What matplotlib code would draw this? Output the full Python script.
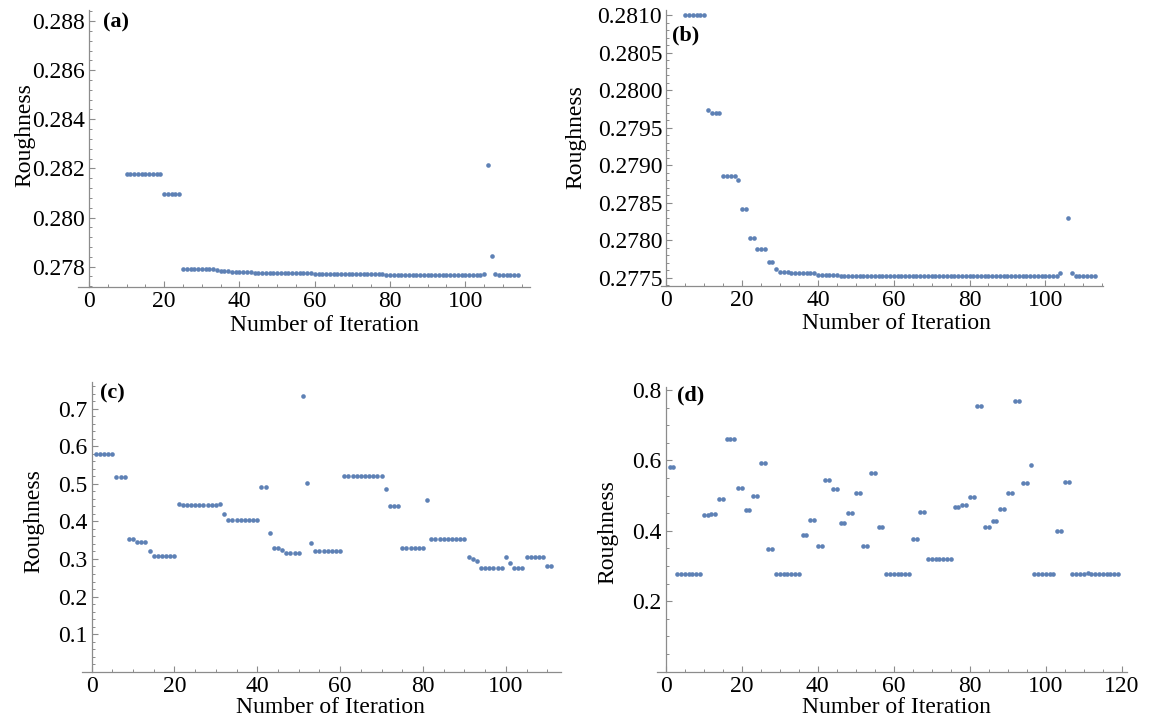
import numpy as np
import matplotlib
matplotlib.use("Agg")
import matplotlib.pyplot as plt
from matplotlib.ticker import MultipleLocator, FixedLocator, FormatStrFormatter

plt.rcParams["font.family"] = ["Liberation Serif", "DejaVu Serif"]

# roughness per iteration, written as runs: level and how many iterations stay on it
# (a) first visible iteration is 10, earlier ones lie above the plot range
a_start = 10
a_level = [0.28176, 0.28094, 0.27790, 0.27786, 0.27781, 0.27778, 0.27774, 0.27771,
           0.27767, 0.27771, 0.28212, 0.27843, 0.27771, 0.27767]
a_count = [10, 5, 9, 1, 3, 6, 16, 19, 26, 1, 1, 1, 1, 6]

# (b) first visible iteration is 5, iteration 105 is off the chart
b_start = 5
b_level = [0.28100, 0.27974, 0.27970, 0.27886, 0.27881, 0.27842, 0.27803, 0.27788,
           0.27771, 0.27762, 0.27758, 0.27756, 0.27754, 0.27753, 0.27757, np.nan,
           0.27830, 0.27757, 0.27753]
b_count = [6, 1, 3, 4, 1, 2, 2, 3, 2, 1, 3, 7, 6, 58, 1, 1, 1, 1, 6]

# (c)
c_start = 1
c_level = [0.580, 0.519, 0.352, 0.344, 0.320, 0.307, 0.446, 0.443, 0.446, 0.421,
           0.403, 0.492, 0.369, 0.328, 0.323, 0.316, 0.734, 0.501, 0.342, 0.321,
           0.521, 0.486, 0.440, 0.328, 0.457, 0.352, 0.306, 0.301, 0.294, 0.277,
           0.306, 0.290, 0.277, 0.306, 0.281]
c_count = [5, 3, 2, 3, 1, 6, 1, 9, 1, 1,
           8, 2, 1, 2, 1, 4, 1, 1, 1, 7,
           10, 1, 3, 6, 1, 9, 1, 1, 1, 6,
           1, 1, 3, 5, 2]

# (d)
d_start = 1
d_level = [0.581, 0.276, 0.445, 0.447, 0.490, 0.661, 0.522, 0.458, 0.500, 0.592,
           0.347, 0.276, 0.388, 0.431, 0.357, 0.545, 0.518, 0.422, 0.451, 0.508,
           0.356, 0.565, 0.410, 0.276, 0.376, 0.453, 0.319, 0.467, 0.474, 0.495,
           0.755, 0.410, 0.428, 0.463, 0.508, 0.768, 0.536, 0.588, 0.276, 0.399,
           0.539, 0.276, 0.281, 0.278, 0.276]
d_count = [2, 7, 2, 2, 2, 3, 2, 2, 2, 2,
           2, 7, 2, 2, 2, 2, 2, 2, 2, 2,
           2, 2, 2, 7, 2, 2, 7, 2, 2, 2,
           2, 2, 2, 2, 2, 2, 2, 1, 6, 2,
           2, 4, 1, 1, 7]

DOT = (0.368, 0.507, 0.710)
AXC = "#8c8c8c"

fig = plt.figure(figsize=(11.52, 7.23), dpi=100)


def panel(rect, start, level, count, xlim, ylim, yticks, yminor, yfmt, xticks,
          letter, letter_xy, xlab_xy, ylab_xy):
    ax = fig.add_axes(rect)
    y = np.repeat(level, count)
    x = np.arange(start, start + len(y))
    ax.scatter(x, y, s=11, color=DOT, linewidths=0, zorder=3, clip_on=False)
    ax.set_xlim(*xlim)
    ax.set_ylim(*ylim)
    for s in ["top", "right"]:
        ax.spines[s].set_visible(False)
    ax.spines["left"].set_position(("data", 0))
    for s in ["left", "bottom"]:
        ax.spines[s].set_color(AXC)
        ax.spines[s].set_linewidth(0.9)
    ax.yaxis.set_major_locator(FixedLocator(yticks))
    ax.yaxis.set_major_formatter(FormatStrFormatter(yfmt))
    ax.yaxis.set_minor_locator(MultipleLocator(yminor))
    ax.xaxis.set_major_locator(FixedLocator(xticks))
    ax.xaxis.set_minor_locator(MultipleLocator(5))
    ax.tick_params(which="both", direction="in", color=AXC, labelsize=17, pad=3)
    ax.tick_params(which="major", length=4.5, width=0.8)
    ax.tick_params(which="minor", length=2.5, width=0.7)
    ax.set_xlabel("Number of Iteration", fontsize=17)
    ax.set_ylabel("Roughness", fontsize=17)
    ax.xaxis.set_label_coords(*xlab_xy)
    ax.yaxis.set_label_coords(*ylab_xy)
    ax.text(letter_xy[0], letter_xy[1], letter, transform=ax.transAxes,
            fontsize=16, fontweight="bold", ha="left", va="top")
    return ax


panel([0.0677, 0.6030, 0.3924, 0.3831], a_start, a_level, a_count,
      (-2.9, 117.2), (0.27717, 0.28845),
      [0.278, 0.280, 0.282, 0.284, 0.286, 0.288], 0.0004, "%.3f",
      [0, 20, 40, 60, 80, 100], "(a)", (0.055, 0.99), (0.546, -0.100), (-0.095, 0.549))

panel([0.5735, 0.6044, 0.3842, 0.3817], b_start, b_level, b_count,
      (-1.5, 115.3), (0.27739, 0.28107),
      [0.2775, 0.2780, 0.2785, 0.2790, 0.2795, 0.2800, 0.2805, 0.2810], 0.0001, "%.4f",
      [0, 20, 40, 60, 80, 100], "(b)", (0.025, 0.945), (0.533, -0.098), (-0.167, 0.538))

panel([0.0709, 0.0710, 0.4161, 0.4011], c_start, c_level, c_count,
      (-2.4, 113.3), (0, 0.772),
      [0.1, 0.2, 0.3, 0.4, 0.5, 0.6, 0.7], 0.02, "%.1f",
      [0, 20, 40, 60, 80, 100], "(c)", (0.038, 0.995), (0.52, -0.088), (-0.077, 0.52))

panel([0.5700, 0.0710, 0.4080, 0.3942], d_start, d_level, d_count,
      (-2.4, 121.3), (0, 0.8095),
      [0.2, 0.4, 0.6, 0.8], 0.05, "%.1f",
      [0, 20, 40, 60, 80, 100, 120], "(d)", (0.043, 1.005), (0.511, -0.088), (-0.082, 0.491))

fig.savefig("out.png", dpi=100)
